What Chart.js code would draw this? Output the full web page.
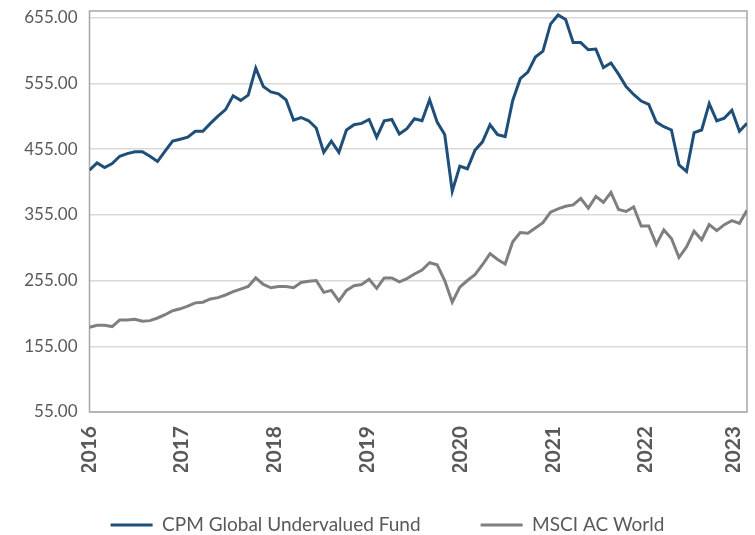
<!DOCTYPE html>
<html><head><meta charset="utf-8">
<script src="https://cdn.jsdelivr.net/npm/chart.js@4/dist/chart.umd.min.js"></script>
<style>html,body{margin:0;padding:0;background:#fff}#wrap{width:755px;height:535px}</style>
</head><body><div id="wrap"><canvas id="c" width="755" height="535"></canvas></div>
<script>
const months = [
 "2016-03","2016-04","2016-05","2016-06","2016-07","2016-08","2016-09","2016-10","2016-11","2016-12",
 "2017-01","2017-02","2017-03","2017-04","2017-05","2017-06","2017-07","2017-08","2017-09","2017-10","2017-11","2017-12",
 "2018-01","2018-02","2018-03","2018-04","2018-05","2018-06","2018-07","2018-08","2018-09","2018-10","2018-11","2018-12",
 "2019-01","2019-02","2019-03","2019-04","2019-05","2019-06","2019-07","2019-08","2019-09","2019-10","2019-11","2019-12",
 "2020-01","2020-02","2020-03","2020-04","2020-05","2020-06","2020-07","2020-08","2020-09","2020-10","2020-11","2020-12",
 "2021-01","2021-02","2021-03","2021-04","2021-05","2021-06","2021-07","2021-08","2021-09","2021-10","2021-11","2021-12",
 "2022-01","2022-02","2022-03","2022-04","2022-05","2022-06","2022-07","2022-08","2022-09","2022-10","2022-11","2022-12",
 "2023-01","2023-02","2023-03","2023-04","2023-05","2023-06"
];
const yearLabels = ["2016","2017","2018","2019","2020","2021","2022","2023"];
// where each year label sits along the x axis, in units of the monthly observations
const yearLabelAt = [0, 12.2, 24.5, 36.8, 49.0, 61.3, 73.6, 85.2];
const seriesNames = ["CPM Global Undervalued Fund", "MSCI AC World"];
const fundValues = [
 423,434,427,433,444,448,451,451,444,436,
 452,467,470,473,482,482,494,505,515,536,529,537,
 578,550,542,539,530,499,503,498,487,450,467,450,
 484,492,494,500,473,498,500,478,486,501,498,530,
 496,477,391,429,425,453,466,492,477,474,529,562,
 572,595,604,645,659,652,617,617,606,607,579,586,
 569,550,538,528,523,496,489,484,431,421,480,484,
 524,498,502,514,482,494
];
const msciValues = [
 184,187,187,185,195,195,196,193,194,198,
 203,209,212,216,221,222,227,229,233,238,242,246,
 259,249,244,246,246,244,252,254,255,237,240,224,
 240,247,249,257,243,259,259,253,258,265,271,282,
 279,255,222,245,255,264,279,296,287,280,314,328,
 327,335,343,359,364,368,370,380,365,383,374,389,
 363,360,367,338,338,310,332,319,290,306,330,317,
 340,331,340,346,342,362
];
const yTickValues = [55,155,255,355,455,555,655];

const LEGEND_PAD = 60;
const toPoints = vals => months.map((m, i) => ({x: i, y: vals[i]}));

const framePlugin = {
  id: 'frame',
  afterLayout(chart) {
    const lg = chart.legend;
    if (lg) {
      lg.left = 28; lg.right = 747;
      lg.top = 525 - LEGEND_PAD - 9.5;
      lg.bottom = 535;
    }
  },
  beforeDatasetsDraw(chart) {
    const {ctx, chartArea: a} = chart;
    ctx.save();
    ctx.strokeStyle = '#a6a6a6';
    ctx.lineWidth = 1.5;
    ctx.strokeRect(a.left, a.top, a.right - a.left, a.bottom - a.top);
    ctx.restore();
  }
};

new Chart(document.getElementById('c'), {
  type: 'line',
  data: {
    datasets: [
      {label: seriesNames[0], data: toPoints(fundValues), borderColor: '#1f4e79', backgroundColor: '#1f4e79', borderWidth: 3, pointRadius: 0, tension: 0},
      {label: seriesNames[1], data: toPoints(msciValues), borderColor: '#7f7f7f', backgroundColor: '#7f7f7f', borderWidth: 3, pointRadius: 0, tension: 0}
    ]
  },
  options: {
    responsive: false,
    animation: false,
    layout: {padding: {left: 10, right: 8, top: 11, bottom: 0}},
    plugins: {
      legend: {
        position: 'bottom',
        maxHeight: 63,
        labels: {usePointStyle: true, pointStyle: 'line', pointStyleWidth: 42, padding: LEGEND_PAD, color: '#595959', font: {family: 'Lato', size: 19}}
      },
      tooltip: {enabled: false}
    },
    scales: {
      x: {
        type: 'linear',
        min: 0, max: months.length - 1,
        grid: {display: false},
        border: {display: false},
        afterBuildTicks(s) { s.ticks = yearLabelAt.map(v => ({value: v})); },
        ticks: {
          autoSkip: false, maxRotation: 90, minRotation: 90, padding: 6,
          color: '#595959', font: {family: 'Lato', size: 21, weight: 'bold'},
          callback: (v, i) => yearLabels[i]
        },
        afterFit(s) { s.height = 60; s.paddingLeft = 0; s.paddingRight = 0; }
      },
      y: {
        min: 55, max: 665,
        afterBuildTicks(s) { s.ticks = yTickValues.map(v => ({value: v})); },
        afterFit(s) { s.width = 79.5; s.paddingTop = 0; s.paddingBottom = 0; },
        grid: {color: '#d9d9d9', lineWidth: 1.5, drawTicks: false},
        border: {display: false},
        ticks: {padding: 12, color: '#595959', font: {family: 'Lato', size: 17}, callback: v => Number(v).toFixed(2)}
      }
    }
  },
  plugins: [framePlugin]
});
</script>
</body></html>
